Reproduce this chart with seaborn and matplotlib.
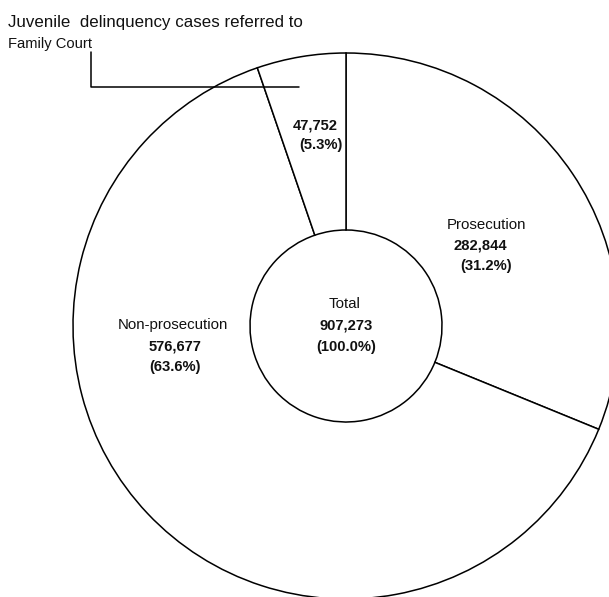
import matplotlib
matplotlib.use("Agg")
import matplotlib.pyplot as plt
import seaborn as sns

categories = ["Prosecution", "Non-prosecution", "Juvenile delinquency cases referred to Family Court"]
values = [282844, 576677, 47752]
percents = ["31.2%", "63.6%", "5.3%"]
total_value = 907273
total_percent = "100.0%"

sns.set_theme(style="white")
plt.rcParams["font.family"] = ["Liberation Sans", "DejaVu Sans"]

W, H, DPI = 609, 597, 100
fig = plt.figure(figsize=(W / DPI, H / DPI), dpi=DPI)
ax = fig.add_axes([0, 0, 1, 1])

CX, CY, R = 346, 326, 273  # pixel centre and outer radius


def px(x, y):
    return ((x - CX) / R, (CY - y) / R)


ax.pie(values, startangle=90, counterclock=False, radius=1,
       colors=["white"] * len(values),
       wedgeprops=dict(width=1 - 96 / R, edgecolor="black", linewidth=1.1))

x0, y0 = px(0, 0)
x1, y1 = px(W, H)
ax.set_xlim(x0, x1)
ax.set_ylim(y1, y0)
ax.set_aspect("auto")
ax.axis("off")

fs = 10.8
fb = 10.6
tcol = "#111111"


def txt(x, y, s, bold=False, ha="center", size=None):
    if size is None:
        size = fb if bold else fs
    ax.text(*px(x, y), s, ha=ha, va="center", fontsize=size,
            fontweight="bold" if bold else "normal", color=tcol)


# Prosecution
txt(487, 225, categories[0])
txt(480, 245, f"{values[0]:,}", bold=True)
txt(486, 266, f"({percents[0]})", bold=True)
# Non-prosecution
txt(173, 325, categories[1])
txt(175, 346, f"{values[1]:,}", bold=True)
txt(175, 367, f"({percents[1]})", bold=True)
# Family court
txt(315, 125, f"{values[2]:,}", bold=True)
txt(321, 145, f"({percents[2]})", bold=True)
# Total
txt(345, 304, "Total")
txt(346, 325, f"{total_value:,}", bold=True)
txt(346, 347, f"({total_percent})", bold=True)

# Callout label
txt(8, 22, "Juvenile  delinquency cases referred to", ha="left", size=12.2)
txt(8, 44, "Family Court", ha="left", size=10.6)
lx = [px(91, 52)[0], px(91, 87)[0], px(299, 87)[0]]
ly = [px(91, 52)[1], px(91, 87)[1], px(299, 87)[1]]
ax.plot(lx, ly, color="black", linewidth=1.1)

fig.savefig("out.png", dpi=DPI, facecolor="white")
